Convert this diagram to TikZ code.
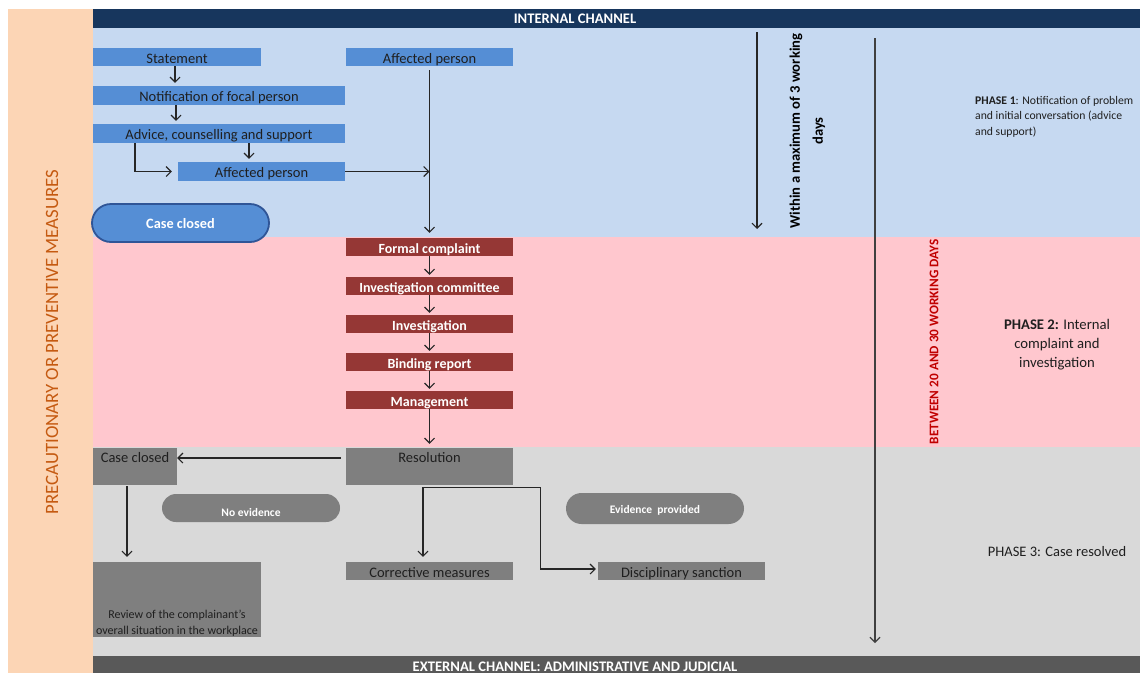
\documentclass[tikz,border=0pt]{standalone}
\usepackage{fontspec}
\setmainfont{Carlito}
\usetikzlibrary{arrows.meta}
\definecolor{peach}{HTML}{FCD5B5}
\definecolor{navy}{HTML}{17365D}
\definecolor{lblue}{HTML}{C6D9F1}
\definecolor{lpink}{HTML}{FFC7CE}
\definecolor{lgrey}{HTML}{D9D9D9}
\definecolor{dgrey}{HTML}{595959}
\definecolor{boxblue}{HTML}{558ED5}
\definecolor{edgeblue}{HTML}{2F5597}
\definecolor{boxred}{HTML}{953735}
\definecolor{boxgrey}{HTML}{7F7F7F}
\definecolor{redtxt}{HTML}{C00000}
\definecolor{browntxt}{HTML}{C55A11}
\definecolor{ink}{HTML}{1F1F1F}
\begin{document}
\begin{tikzpicture}[x=1pt,y=-1pt,
  bbox/.style={fill=boxblue, draw=none, inner sep=0, minimum height=18, text height=12, text depth=0, text=ink, font=\fontsize{14.5}{16}\selectfont},
  rbox/.style={fill=boxred, draw=none, inner sep=0, minimum width=167, minimum height=18, text height=12, text depth=0, text=white, font=\bfseries\fontsize{14}{16}\selectfont},
  gbox/.style={fill=boxgrey, draw=none, inner sep=0, minimum height=18, text height=12, text depth=0, text=ink, font=\fontsize{14.5}{16}\selectfont},
  glab/.style={anchor=north, inner sep=4.5, text=ink, font=\fontsize{14.5}{16}\selectfont},
  glabs/.style={anchor=south, inner sep=0.5, align=center, text=ink, font=\fontsize{12}{16}\selectfont},
  stad/.style={fill=boxblue, draw=edgeblue, line width=1.8, rounded corners=19, minimum width=177, minimum height=38, inner sep=0, text height=10, text depth=0, text=white, font=\bfseries\fontsize{14.3}{16}\selectfont},
  ell/.style={fill=boxgrey, draw=none, rounded corners=14, minimum width=178, minimum height=28, inner sep=0, text=white, font=\bfseries\fontsize{11.5}{13}\selectfont},
  arr/.style={draw=black!85, line width=1.1, -{Straight Barb[length=5pt,width=10pt]}},
  plain/.style={text=ink, inner sep=0}
]
\useasboundingbox (0,0) rectangle (1140,673);
% background bands
\fill[white] (0,0) rectangle (1140,673);
\fill[peach] (8,9) rectangle (93,673);
\fill[navy] (93,9) rectangle (1140,28);
\fill[lblue] (93,28) rectangle (1140,237);
\fill[lpink] (93,237) rectangle (1140,447);
\fill[lgrey] (93,447) rectangle (1140,656);
\fill[dgrey] (93,656) rectangle (1140,673);

% titles
\node[text=white, font=\bfseries\fontsize{14.6}{16}\selectfont] (hdr) at (575,19) {INTERNAL CHANNEL};
\node[text=white, anchor=base, font=\bfseries\fontsize{14.6}{16}\selectfont] (ftr) at (575,671.5) {EXTERNAL CHANNEL: ADMINISTRATIVE AND JUDICIAL};
\node[rotate=90, text=browntxt, font=\fontsize{18.8}{20}\selectfont] (prec) at (52,342) {PRECAUTIONARY OR PREVENTIVE MEASURES};

% phase 1
\node[bbox, minimum width=168] (stmt) at (177,57) {Statement};
\node[bbox, minimum width=252, minimum height=19] (notif) at (219,95.5) {Notification of focal person};
\node[bbox, minimum width=252, minimum height=19] (adv) at (219,133.5) {Advice, counselling and support};
\node[bbox, minimum width=167, minimum height=19] (aff1) at (261.5,171.5) {Affected person};
\node[bbox, minimum width=167] (aff2) at (429.5,57) {Affected person};
\node[stad] (cc1) at (180.5,223) {Case closed};

% phase 2
\node[rbox] (fc) at (429.5,247) {Formal complaint};
\node[rbox] (ic) at (429.5,286) {Investigation committee};
\node[rbox] (iv) at (429.5,324) {Investigation};
\node[rbox] (br) at (429.5,362) {Binding report};
\node[rbox] (mg) at (429.5,400) {Management};

% phase 3
\node[gbox, minimum width=167, minimum height=37, label={[glab]north:Resolution}] (res) at (429.5,466.5) {};
\node[gbox, minimum width=84, minimum height=37, label={[glab]north:Case closed}] (cc2) at (135,466.5) {};
\node[gbox, minimum width=168, minimum height=75, label={[glabs]south:Review of the complainant's\\overall situation in the workplace}] (rev) at (177,599.5) {};
\node[ell, text height=16, text depth=0] (noev) at (251,508) {No evidence};
\node[ell, minimum height=31, rounded corners=15.5, text height=10, text depth=0] (evp) at (655,508.5) {Evidence\ \ provided};
\node[gbox, minimum width=167] (corr) at (429.5,571) {Corrective measures};
\node[gbox, minimum width=167] (disc) at (681.5,571) {Disciplinary sanction};

% right-hand texts
\node[rotate=90, align=center, text=black, font=\bfseries\fontsize{14.6}{23}\selectfont] (within) at (807.5,131) {Within a maximum of 3 working\\days};
\node[rotate=90, text=redtxt, font=\bfseries\fontsize{13.2}{15}\selectfont] (betw) at (934,342) {BETWEEN 20 AND 30 WORKING DAYS};
\node[plain, anchor=north west, align=left, font=\fontsize{11.7}{15.5}\selectfont] (ph1) at (975,96) {\textbf{PHASE 1}: Notification of problem\\and initial conversation (advice\\and support)};
\node[plain, align=center, font=\fontsize{14.7}{19}\selectfont] (ph2) at (1057,345) {\textbf{PHASE 2:} Internal\\complaint and\\investigation};
\node[plain, font=\fontsize{14.5}{16}\selectfont] (ph3) at (1057,552) {PHASE 3: Case resolved};

% connectors phase 1
\draw[arr] ([xshift=-2pt]stmt.south) -- ([xshift=-44pt,yshift=3pt]notif.north);
\draw[arr] ([xshift=-43pt]notif.south) -- ([xshift=-43pt,yshift=3pt]adv.north);
\draw[arr] ([xshift=30pt]adv.south) -- ([xshift=-12.5pt,yshift=3pt]aff1.north);
\draw[arr] ([xshift=-84pt]adv.south) |- ([xshift=-6pt]aff1.west);
\draw[arr] (aff1.east) -- (aff2.south |- aff1.east);
\draw[arr] ([yshift=-4pt]aff2.south) -- ([yshift=5pt]fc.north);

% connectors phase 2
\draw[arr] (fc.south) -- ([yshift=2pt]ic.north);
\draw[arr] (ic.south) -- ([yshift=2pt]iv.north);
\draw[arr] (iv.south) -- ([yshift=2pt]br.north);
\draw[arr] (br.south) -- ([yshift=2pt]mg.north);
\draw[arr] (mg.south) -- ([yshift=4pt]res.north);

% connectors phase 3
\draw[arr] ([xshift=-5pt,yshift=8.5pt]res.west) -- ([yshift=8.5pt]cc2.east);
\draw[arr] ([xshift=-8pt,yshift=-1pt]cc2.south) -- ([xshift=-50pt,yshift=5pt]rev.north);
\draw[arr] ([xshift=-6.5pt,yshift=-2pt]res.south) -- ([xshift=-6.5pt,yshift=5pt]corr.north);
\draw[arr] ([xshift=-6.5pt,yshift=-2pt]res.south) -| ([xshift=-57pt,yshift=2pt]disc.west) -- ([xshift=-2pt,yshift=2pt]disc.west);

% time arrows
\coordinate (t1a) at (757,32);
\coordinate (t1b) at (757,229);
\coordinate (t2a) at (875,38);
\coordinate (t2b) at (875,643);
\draw[arr] (t1a) -- (t1b);
\draw[arr, draw=black!75] (t2a) -- (t2b);
\end{tikzpicture}
\end{document}
